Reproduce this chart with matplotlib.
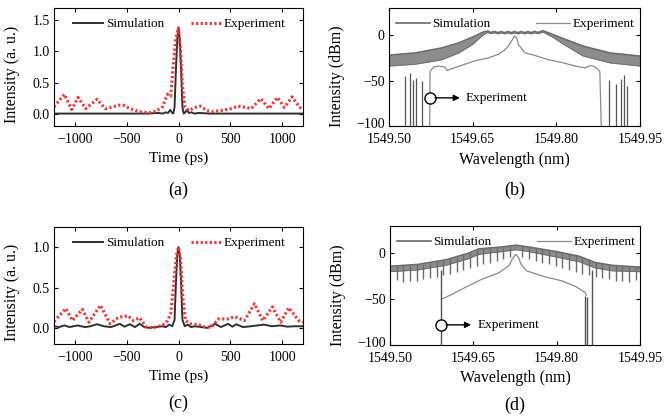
import matplotlib
matplotlib.use("Agg")
import matplotlib.pyplot as plt
from matplotlib.transforms import ScaledTranslation

plt.rcParams["font.family"] = ["Liberation Serif", "DejaVu Serif"]
plt.rcParams["font.size"] = 9

# -------------------------------------------------
# data (estimated)
# -------------------------------------------------
# (a) time domain, first case
sim_a_t = [-1200, -300, -200, -150, -125, -100, -80, -65, -50, -38, -25, -12, 0,
           12, 25, 38, 50, 65, 80, 100, 125, 150, 200, 300, 1200]
sim_a_y = [0.0, 0.0, 0.01, 0.0, 0.02, 0.01, 0.06, 0.02, 0.0, 0.1, 0.7, 1.2, 1.37,
           1.2, 0.7, 0.1, 0.0, 0.02, 0.06, 0.01, 0.02, 0.0, 0.01, 0.0, 0.0]
exp_a_t = [-1200, -1100, -1030, -968, -895, -785, -706, -627, -580, -530, -470,
           -375, -280, -216, -154, -106, -75, -52, -27, 0, 20, 37, 63, 100, 163,
           210, 272, 320, 415, 510, 573, 652, 700, 794, 873, 952, 1022, 1095,
           1168, 1200]
exp_a_y = [0.11, 0.31, 0.065, 0.26, 0.08, 0.23, 0.08, 0.11, 0.135, 0.135, 0.08,
           0.03, 0.015, 0.04, 0.11, 0.31, 0.28, 0.76, 1.2, 1.38, 1.0, 0.46, 0.1,
           0.05, 0.1, 0.12, 0.05, 0.03, 0.05, 0.08, 0.12, 0.1, 0.08, 0.24, 0.08,
           0.26, 0.1, 0.27, 0.1, 0.08]

# (c) time domain, second case
sim_c_t = [-1200, -1150, -1100, -1050, -975, -900, -850, -785, -720, -650, -565,
           -520, -470, -420, -375, -330, -280, -220, -160, -120, -90, -60, -38,
           -25, -12, 0, 12, 25, 38, 60, 90, 120, 160, 220, 280, 352, 410, 478,
           520, 556, 620, 700, 760, 826, 900, 980, 1050, 1120, 1200]
sim_c_y = [0.02, 0.01, 0.03, 0.01, 0.03, 0.01, 0.02, 0.045, 0.02, 0.01, 0.05,
           0.015, 0.045, 0.01, 0.05, 0.01, 0.0, 0.01, 0.02, 0.01, 0.04, 0.02, 0.1,
           0.55, 0.9, 1.0, 0.9, 0.55, 0.1, 0.02, 0.04, 0.01, 0.02, 0.01, 0.0, 0.05,
           0.01, 0.05, 0.015, 0.045, 0.01, 0.02, 0.03, 0.04, 0.02, 0.03, 0.015,
           0.02, 0.02]
exp_c_t = [-1200, -1086, -1022, -927, -864, -753, -659, -580, -485, -437, -374,
           -311, -248, -153, -106, -74, -45, -20, 0, 20, 40, 68, 115, 190, 257,
           320, 383, 478, 541, 636, 733, 811, 906, 985, 1064, 1159, 1200]
exp_c_y = [0.08, 0.24, 0.09, 0.23, 0.07, 0.28, 0.05, 0.13, 0.15, 0.09, 0.125,
           0.01, 0.0, 0.03, 0.09, 0.18, 0.55, 0.9, 1.0, 0.85, 0.4, 0.09, 0.05,
           0.04, 0.01, 0.01, 0.11, 0.11, 0.14, 0.09, 0.30, 0.09, 0.26, 0.07, 0.25,
           0.09, 0.07]

# (b) spectrum, first case: simulation drawn as a band (fast ripple)
sim_b_wl = [1549.50, 1549.547, 1549.595, 1549.625, 1549.65, 1549.668, 1549.677,
            1549.683, 1549.689, 1549.695, 1549.701, 1549.707, 1549.713, 1549.719,
            1549.725, 1549.731, 1549.737, 1549.743, 1549.749, 1549.755, 1549.761,
            1549.767, 1549.776, 1549.794, 1549.818, 1549.848, 1549.896, 1549.95]
sim_b_up = [-22, -19.5, -14, -8.5, -2, 3.3, 4.6, 3.0, 4.2, 2.8, 4.0, 2.8, 4.0,
            2.8, 4.0, 2.8, 4.0, 2.8, 4.0, 2.8, 4.2, 3.0, 5.0, 0.7, -5, -12,
            -19.5, -23]
sim_b_lo = [-34, -32, -27, -19.5, -10, 0, 3.0, 1.6, 2.8, 1.4, 2.6, 1.4, 2.6,
            1.4, 2.6, 1.4, 2.6, 1.4, 2.6, 1.4, 2.8, 1.6, 3.4, -2.5, -12, -23,
            -30.5, -34]
exp_b_wl = [1549.573, 1549.5735, 1549.58, 1549.59, 1549.60, 1549.604, 1549.612,
            1549.636, 1549.655, 1549.678, 1549.696, 1549.706, 1549.714, 1549.72,
            1549.725, 1549.729, 1549.732, 1549.738, 1549.744, 1549.76, 1549.786,
            1549.81, 1549.834, 1549.852, 1549.86, 1549.866, 1549.872, 1549.878,
            1549.8805]
exp_b_y = [-100, -40, -35, -34, -35, -39, -37, -32, -28, -25, -21, -17, -12, -6,
           -1, -3, -10, -15, -19.5, -22, -27, -30, -34, -36, -33.5, -34, -36, -40,
           -100]
spike_b_wl = [1549.529, 1549.538, 1549.543, 1549.548, 1549.559,
              1549.894, 1549.907, 1549.916, 1549.922, 1549.927]
spike_b_top = [-45, -42, -49, -47, -50, -49, -54, -48, -44, -56]

# (d) spectrum, second case: band + deep narrow dips
sim_d_wl = [1549.50, 1549.55, 1549.60, 1549.64, 1549.66, 1549.70, 1549.727,
            1549.75, 1549.80, 1549.84, 1549.87, 1549.90, 1549.95]
sim_d_up = [-14, -12, -7, 0, 5, 7, 9, 7, 2, -3, -10, -13, -15]
sim_d_lo = [-20, -18, -13, -6, -1, 2, 4, 2, -4, -9, -16, -19, -20]
dip_d_wl = [1549.512, 1549.524, 1549.536, 1549.548, 1549.560, 1549.572,
            1549.584, 1549.596, 1549.608, 1549.620, 1549.632, 1549.644,
            1549.656, 1549.668, 1549.680, 1549.692, 1549.704, 1549.716,
            1549.738, 1549.750, 1549.762, 1549.774, 1549.786, 1549.798,
            1549.810, 1549.822, 1549.834, 1549.846, 1549.858, 1549.870,
            1549.882, 1549.894, 1549.906, 1549.918, 1549.930, 1549.942]
dip_d_bot = [-29, -31, -30, -30, -28, -27, -26, -24, -22, -20, -18, -16, -14,
             -12, -10, -8, -6, -4, -4, -6, -8, -10, -12, -14, -16, -18, -20,
             -22, -24, -26, -27, -28, -30, -30, -31, -29]
dip_d_top = [-13.5, -13, -12.5, -12, -11, -10, -8.5, -7.5, -5.5, -3.5, -1.5, 1,
             4, 5.5, 6, 6.5, 7.5, 8.5, 8, 7, 6, 4.5, 3.5, 2, 1, -0.5, -2, -4.5,
             -7, -10, -11, -12.5, -13.5, -14, -14.5, -15]
exp_d_wl = [1549.592, 1549.600, 1549.612, 1549.636, 1549.666, 1549.696,
            1549.714, 1549.72, 1549.726, 1549.731, 1549.736, 1549.746,
            1549.776, 1549.81, 1549.834, 1549.852, 1549.8535]
exp_d_y = [-50, -48, -44.5, -37, -28, -21, -13.5, -6, -1, -4, -12, -19, -25,
           -30, -36, -43, -46]
line_d_wl = [1549.591, 1549.851, 1549.855, 1549.864]
line_d_top = [-18, -47, -48, -18]

# panel layout (pixel boxes: left, right, top, bottom)
W, H = 666, 420
boxes = {"a": (54, 303, 8, 126), "b": (389, 640, 8, 126),
         "c": (54, 303, 227, 344), "d": (390, 640, 226, 345)}

fig = plt.figure(figsize=(W / 100, H / 100), dpi=100)
axs = {}
for k, (l, r, t, b) in boxes.items():
    axs[k] = fig.add_axes([l / W, 1 - b / H, (r - l) / W, (b - t) / H])
    axs[k].tick_params(direction="in", top=True, right=True, length=3,
                       labelsize=10, pad=3)
    axs[k].tick_params(axis="x", pad=5)
    for s in axs[k].spines.values():
        s.set_linewidth(0.8)

RED = "#ff2a2a"
SIM_K = "#303030"

# ---- time-domain panels ----
for k, st, sy, et, ey, ylim, yt in [
        ("a", sim_a_t, sim_a_y, exp_a_t, exp_a_y, (-0.2, 1.7), [0, 0.5, 1.0, 1.5]),
        ("c", sim_c_t, sim_c_y, exp_c_t, exp_c_y, (-0.2, 1.25), [0, 0.5, 1.0])]:
    ax = axs[k]
    ax.plot(st, sy, color=SIM_K, lw=1.4, label="Simulation")
    ax.plot(et, ey, color=RED, lw=2.2, linestyle=(0, (0.7, 0.8)),
            label="Experiment")
    ax.set_xlim(-1200, 1200)
    ax.set_ylim(*ylim)
    ax.set_xticks([-1000, -500, 0, 500, 1000])
    ax.set_yticks(yt)
    ax.set_yticklabels([f"{v:.1f}" for v in yt])
    ax.set_xlabel("Time (ps)", fontsize=11, labelpad=4)
    ax.set_ylabel("Intensity (a. u.)", fontsize=11.5)
    ax.yaxis.set_label_coords(-0.135, 0.44)
    ax.legend(loc="upper left", bbox_to_anchor=(0.05, 0.97), ncol=2,
              frameon=False, fontsize=9.5, handlelength=2.3, columnspacing=2.0,
              handletextpad=0.2, borderaxespad=0.1)

# ---- spectrum panels ----
SIM_G = "#6a6a6a"
EXP_G = "#8a8a8a"

ax = axs["b"]
ax.fill_between(sim_b_wl, sim_b_lo, sim_b_up, color="#8c8c8c", lw=0)
ax.plot(sim_b_wl, sim_b_up, color=SIM_G, lw=1.2, label="Simulation")
ax.plot(sim_b_wl, sim_b_lo, color=SIM_G, lw=0.6)
ax.plot(exp_b_wl, exp_b_y, color=EXP_G, lw=0.9, label="Experiment")
ax.vlines(spike_b_wl, -100, spike_b_top, color="#555555", lw=0.9)
ann_b = (1549.5735, -69, 1549.627, 1549.638)

ax = axs["d"]
ax.fill_between(sim_d_wl, sim_d_lo, sim_d_up, color="#8c8c8c", lw=0)
ax.plot(sim_d_wl, sim_d_up, color=SIM_G, lw=1.2, label="Simulation")
ax.plot(sim_d_wl, sim_d_lo, color=SIM_G, lw=0.6)
ax.vlines(dip_d_wl, dip_d_bot, dip_d_top, color=SIM_G, lw=1.0)
ax.plot(exp_d_wl, exp_d_y, color=EXP_G, lw=0.9, label="Experiment")
ax.vlines(line_d_wl, -100, line_d_top, color="#555555", lw=1.0)
ann_d = (1549.592, -78, 1549.646, 1549.658)

for k, (cx, cy, ax_end, tx) in [("b", ann_b), ("d", ann_d)]:
    ax = axs[k]
    ax.plot([cx], [cy], "o", mfc="white", mec="black", ms=8, mew=1.0)
    ax.annotate("", xy=(ax_end, cy), xytext=(cx + 0.009, cy),
                arrowprops=dict(arrowstyle="-|>", color="black", lw=1.0,
                                mutation_scale=9, shrinkA=0, shrinkB=0))
    ax.text(tx, cy, "Experiment", va="center", ha="left", fontsize=9.5)
    ax.set_xlim(1549.50, 1549.95)
    ax.set_ylim(-100, 30)
    ax.set_xticks([1549.50, 1549.65, 1549.80, 1549.95])
    ax.set_xticklabels(["1549.50", "1549.65", "1549.80", "1549.95"])
    ax.set_yticks([-100, -50, 0])
    ax.set_xlabel("Wavelength (nm)", fontsize=11.5, labelpad=4)
    ax.set_ylabel("Intensity (dBm)", fontsize=11.5)
    ax.yaxis.set_label_coords(-0.175, 0.42)
    # lift the -100 label a little so it clears the first x label
    lab = ax.get_yticklabels()[0]
    lab.set_transform(lab.get_transform() +
                      ScaledTranslation(0, 2 / 72, fig.dpi_scale_trans))
    ax.legend(loc="upper left", bbox_to_anchor=(0.0, 0.97), ncol=2,
              frameon=False, fontsize=9.5, handlelength=2.6, columnspacing=3.4,
              handletextpad=0.2, borderaxespad=0.1)

# panel tags
for k, y in [("a", 190), ("b", 190), ("c", 403), ("d", 405)]:
    l, r, t, b = boxes[k]
    fig.text((l + r) / 2 / W, 1 - y / H, f"({k})", ha="center", va="center",
             fontsize=13)

fig.savefig("out.png", dpi=100)
